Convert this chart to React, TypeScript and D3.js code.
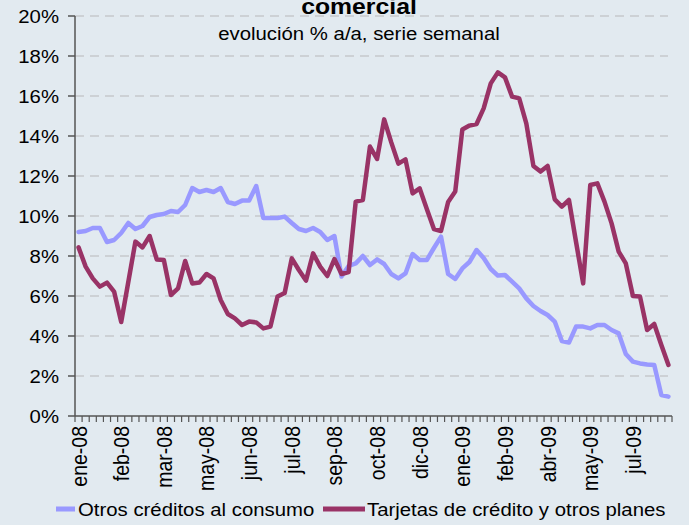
import React from 'react';
import * as d3 from 'd3';

const otros: number[] = [
  9.2, 9.25, 9.4, 9.4, 8.7, 8.8, 9.15, 9.65, 9.35, 9.5,
  9.95, 10.05, 10.1, 10.25, 10.2, 10.55, 11.4, 11.2, 11.3, 11.2,
  11.4, 10.7, 10.6, 10.77, 10.77, 11.5, 9.9, 9.9, 9.9, 9.97,
  9.65, 9.35, 9.25, 9.4, 9.2, 8.8, 9.0, 6.97, 7.5, 7.63,
  8.0, 7.55, 7.83, 7.6, 7.1, 6.88, 7.13, 8.1, 7.8, 7.8,
  8.4, 8.97, 7.1, 6.85, 7.38, 7.7, 8.3, 7.9, 7.35, 7.02,
  7.05, 6.72, 6.38, 5.88, 5.5, 5.25, 5.05, 4.72, 3.75, 3.67,
  4.47, 4.47, 4.38, 4.55, 4.55, 4.3, 4.13, 3.1, 2.72, 2.63,
  2.58, 2.55, 1.05, 0.97,
];

const tarjetas: number[] = [
  8.43, 7.47, 6.88, 6.47, 6.67, 6.22, 4.7, 6.7, 8.72, 8.43,
  9.0, 7.83, 7.8, 6.05, 6.38, 7.75, 6.63, 6.67, 7.1, 6.88,
  5.8, 5.1, 4.88, 4.55, 4.72, 4.68, 4.38, 4.47, 5.97, 6.15,
  7.88, 7.3, 6.77, 8.13, 7.47, 7.0, 7.85, 7.1, 7.2, 10.72,
  10.8, 13.47, 12.85, 14.83, 13.68, 12.62, 12.83, 11.13, 11.38, 10.35,
  9.35, 9.25, 10.7, 11.22, 14.33, 14.52, 14.6, 15.38, 16.63, 17.18,
  16.93, 15.97, 15.88, 14.63, 12.5, 12.22, 12.5, 10.83, 10.47, 10.8,
  8.7, 6.63, 11.55, 11.63, 10.72, 9.63, 8.22, 7.63, 6.0, 5.97,
  4.3, 4.6, 3.55, 2.55,
];

const tickLabels: string[] = [
  'ene-08', 'feb-08', 'mar-08', 'may-08', 'jun-08', 'jul-08', 'sep-08',
  'oct-08', 'dic-08', 'ene-09', 'feb-09', 'abr-09', 'may-09', 'jul-09',
];
const labelEvery = 6;
const yTicks: number[] = [0, 2, 4, 6, 8, 10, 12, 14, 16, 18, 20];

const seriesNames = ['Otros créditos al consumo', 'Tarjetas de crédito y otros planes'];
const seriesColors = ['#9999FF', '#993366'];

const FONT = "'Liberation Sans', Arial, sans-serif";

export default function App() {
  const W = 689;
  const H = 525;
  const left = 75;
  const right = 672;
  const top = 16;
  const bottom = 416;
  const sx = 1.1;

  const cats = d3.range(otros.length);
  const x = d3.scaleBand<number>().domain(cats).range([left, right]).padding(0);
  const bw = x.bandwidth();
  const cx = (i: number) => (x(i) as number) + bw / 2;
  const y = d3.scaleLinear().domain([0, 20]).range([bottom, top]);

  const line = d3
    .line<number>()
    .x((_d, i) => cx(i))
    .y((d) => y(d));

  const boundaries = d3.range(otros.length + 1).map((i) => left + i * bw);

  return (
    <svg
      width={W}
      height={H}
      style={{ position: 'absolute', left: 0, top: 0, display: 'block' }}
    >
      <rect x={0} y={0} width={W} height={H} fill="#E2EAF0" />

      {/* gridlines */}
      {yTicks
        .filter((t) => t > 0)
        .map((t) => (
          <line
            key={'g' + t}
            x1={left}
            x2={right - 4}
            y1={y(t)}
            y2={y(t)}
            stroke="#C6C9CB"
            strokeWidth={1.5}
            strokeDasharray="9,6"
          />
        ))}

      {/* title */}
      <text
        transform={`translate(359,13.5) scale(${sx},1)`}
        textAnchor="middle"
        fontFamily={FONT}
        fontWeight="bold"
        fontSize={22.5}
        fill="#000"
      >
        comercial
      </text>
      <text
        transform={`translate(359,40) scale(${sx},1)`}
        textAnchor="middle"
        fontFamily={FONT}
        fontSize={18.5}
        fill="#000"
      >
        evolución % a/a, serie semanal
      </text>

      {/* y axis */}
      <line x1={left} x2={left} y1={top} y2={bottom} stroke="#555" strokeWidth={1.5} />
      {yTicks.map((t) => (
        <g key={'y' + t}>
          <line x1={left - 7} x2={left} y1={y(t)} y2={y(t)} stroke="#555" strokeWidth={1.5} />
          <text
            transform={`translate(59,${y(t) + 7}) scale(${sx},1)`}
            textAnchor="end"
            fontFamily={FONT}
            fontSize={18.5}
            fill="#000"
          >
            {t + '%'}
          </text>
        </g>
      ))}

      {/* x axis */}
      <line x1={left} x2={right} y1={bottom} y2={bottom} stroke="#555" strokeWidth={1.5} />
      {boundaries.map((bx, i) => (
        <line key={'xt' + i} x1={bx} x2={bx} y1={bottom} y2={bottom + 6} stroke="#555" strokeWidth={1.2} />
      ))}
      {tickLabels.map((lab, k) => {
        const i = k * labelEvery;
        return (
          <text
            key={'xl' + k}
            transform={`translate(${cx(i) + 8},${bottom + 10}) scale(${sx},1) rotate(-90)`}
            textAnchor="end"
            fontFamily={FONT}
            fontSize={19.5}
            fill="#000"
          >
            {lab}
          </text>
        );
      })}

      {/* series */}
      {[otros, tarjetas].map((s, k) => (
        <path
          key={'s' + k}
          d={line(s) || ''}
          fill="none"
          stroke={seriesColors[k]}
          strokeWidth={4.5}
          strokeLinejoin="round"
          strokeLinecap="round"
        />
      ))}

      {/* legend */}
      <line x1={56} x2={75} y1={509} y2={509} stroke={seriesColors[0]} strokeWidth={5} />
      <text
        transform={`translate(78,516) scale(${sx},1)`}
        fontFamily={FONT}
        fontSize={18.5}
        fill="#000"
      >
        {seriesNames[0]}
      </text>
      <line x1={323} x2={365} y1={509} y2={509} stroke={seriesColors[1]} strokeWidth={5} />
      <text
        transform={`translate(367,516) scale(${sx},1)`}
        fontFamily={FONT}
        fontSize={18.5}
        fill="#000"
      >
        {seriesNames[1]}
      </text>
    </svg>
  );
}
